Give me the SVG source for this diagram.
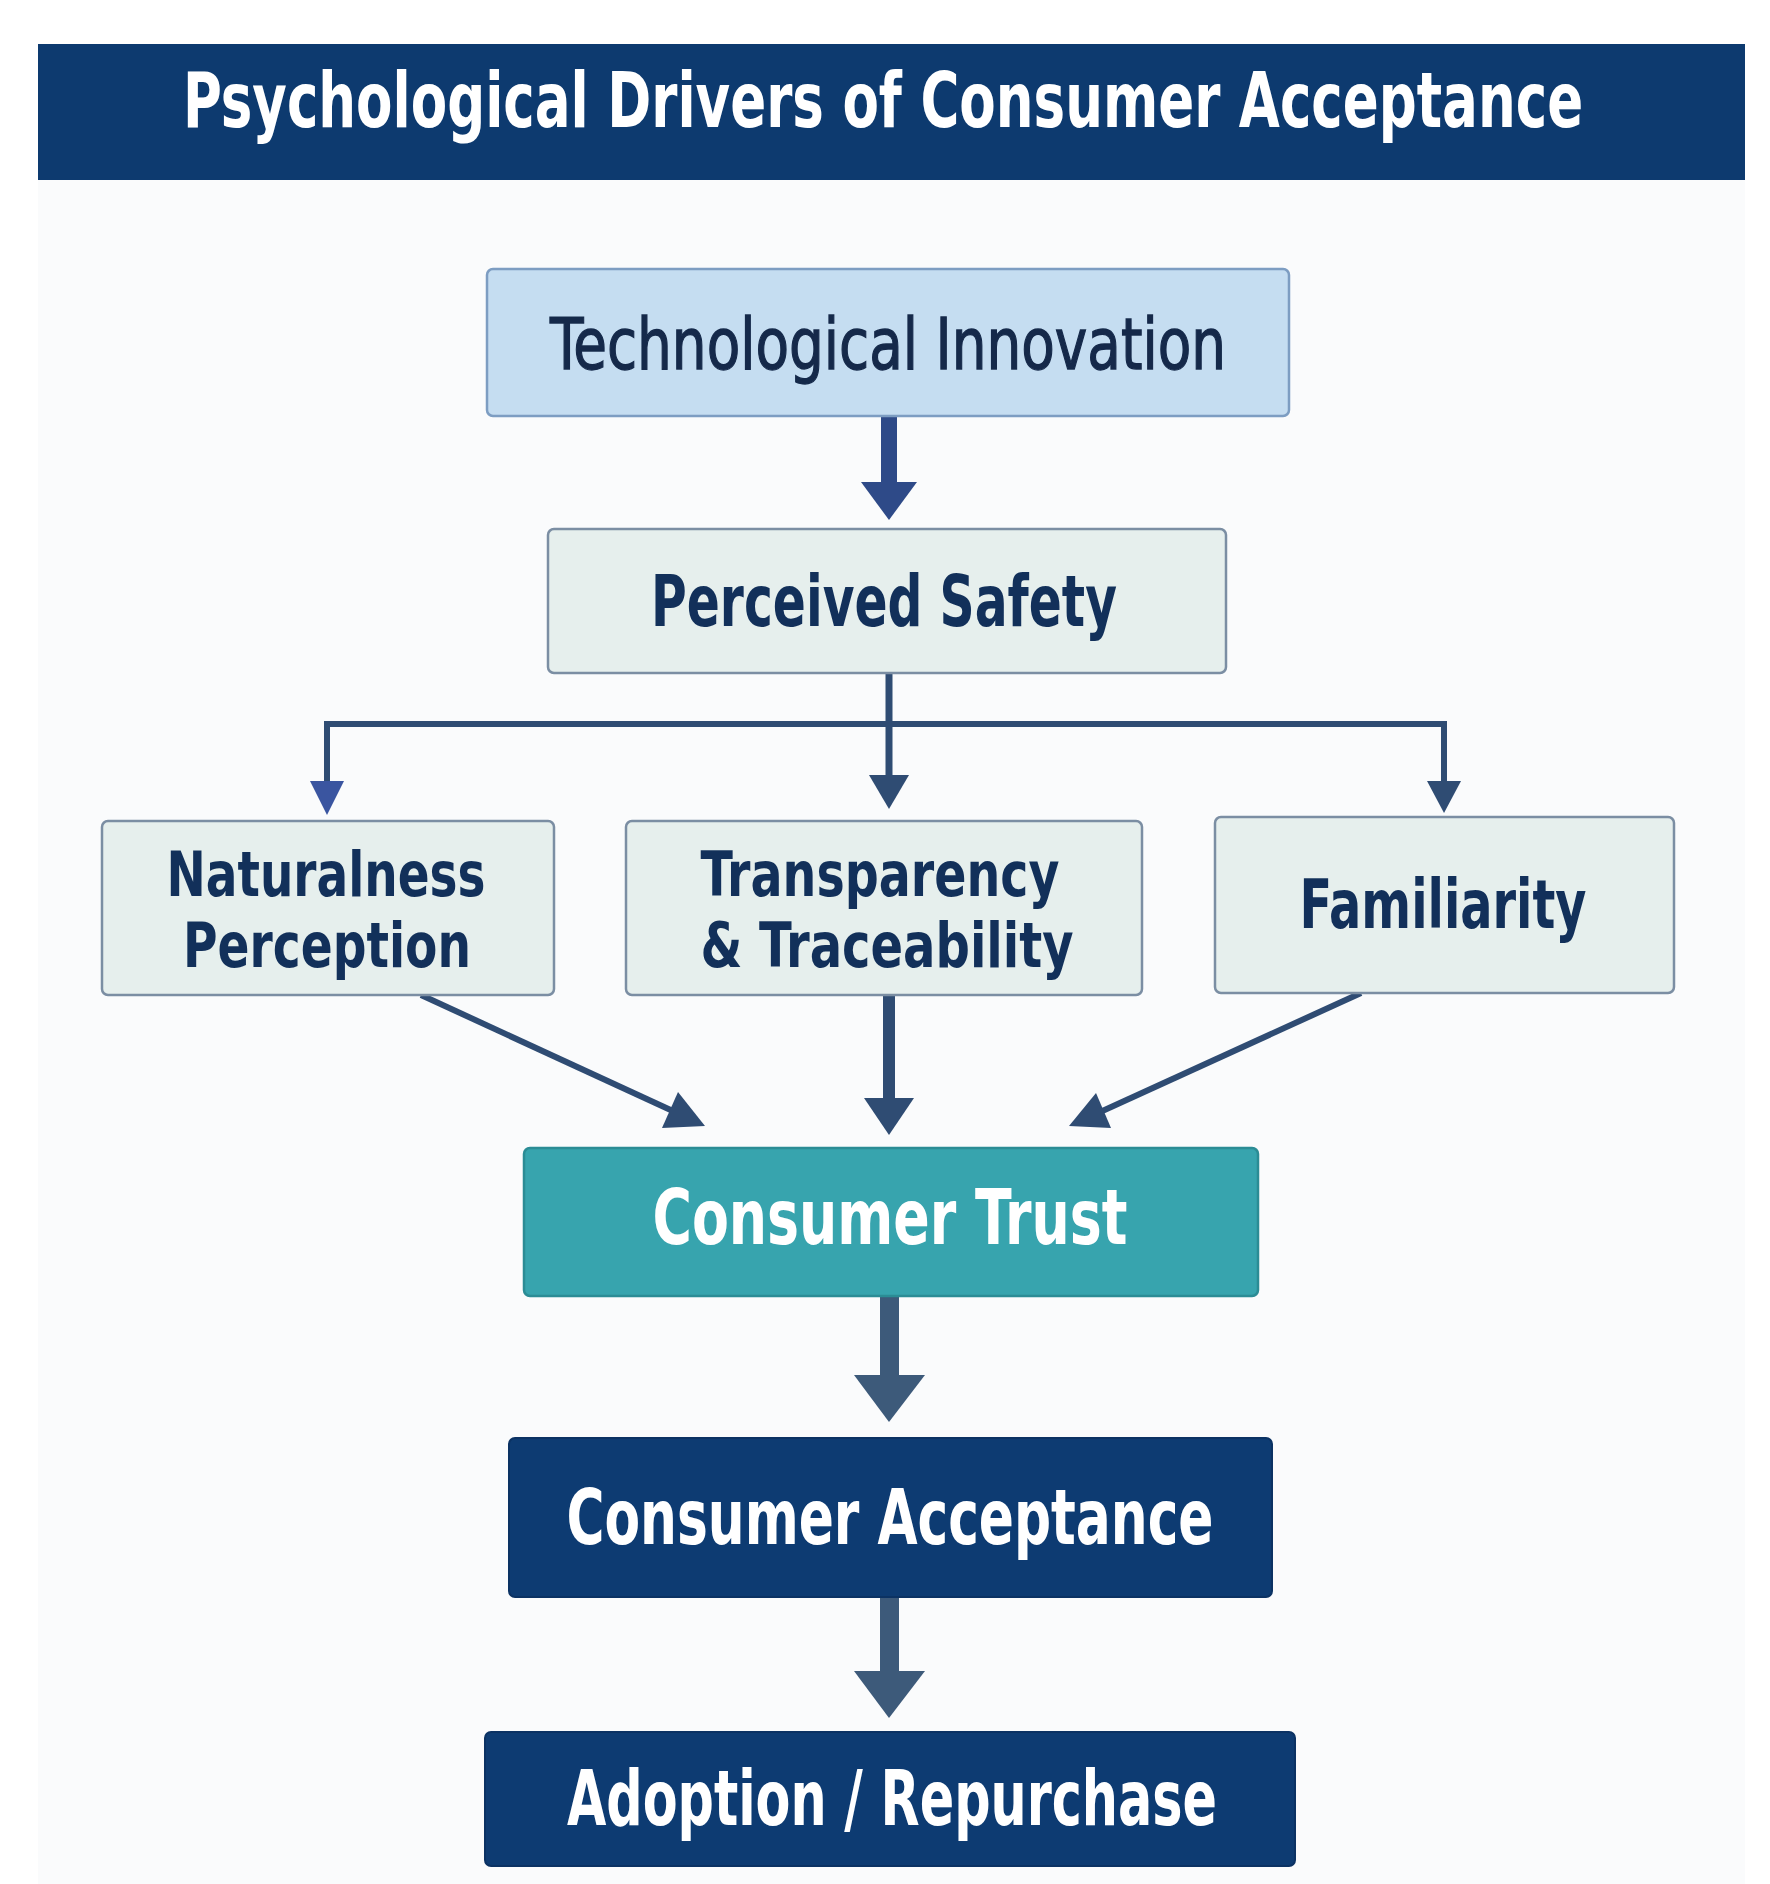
<svg xmlns="http://www.w3.org/2000/svg" width="1770" height="1884" viewBox="0 0 1770 1884">
  <style>
    .lbl { font-family: "Liberation Sans Narrow", "DejaVu Sans Condensed", "Liberation Sans", sans-serif; text-anchor: middle; }
    .dark { fill: #12305a; font-weight: bold; }
    .light { fill: #ffffff; font-weight: bold; }
    .pale { fill: #e6efed; stroke: #7b8ea3; stroke-width: 2.5; }
    .navy { fill: #0d3b72; stroke: #0b3263; stroke-width: 2; }
    .thin { fill: none; stroke: #2f4c73; stroke-width: 6; }
    .thinhead { fill: #2f4c73; }
  </style>
  <rect x="0" y="0" width="1770" height="1884" fill="#ffffff"/>
  <rect x="38" y="180" width="1707" height="1704" fill="#fafbfc"/>

  <g id="title">
    <rect x="38" y="44" width="1707" height="136" fill="#0d3a6f"/>
    <text class="lbl light" transform="translate(883,127) scale(0.75,1)" x="0" y="0" font-size="76" textLength="1867" lengthAdjust="spacingAndGlyphs">Psychological Drivers of Consumer Acceptance</text>
  </g>

  <g id="connectors">
    <!-- Tech -> Safety -->
    <rect x="881" y="415" width="16" height="68" fill="#2e4a88"/>
    <polygon points="861,482 917,482 889,520" fill="#2e4a88"/>
    <!-- Safety split -->
    <line class="thin" x1="889" y1="673" x2="889" y2="778" style="stroke-width:7"/>
    <polyline class="thin" points="327,784 327,724 1444,724 1444,784"/>
    <polygon points="310,781 344,781 327,815" fill="#3a55a0"/>
    <polygon class="thinhead" points="869,775 909,775 889,809"/>
    <polygon class="thinhead" points="1427,781 1461,781 1444,813"/>
    <!-- to Trust -->
    <line class="thin" x1="421" y1="995" x2="675" y2="1112"/>
    <polygon class="thinhead" points="705,1126 662,1128 678,1092"/>
    <rect x="883" y="995" width="12" height="104" fill="#2f4c73"/>
    <polygon class="thinhead" points="864,1098 914,1098 889,1135"/>
    <line class="thin" x1="1361" y1="993" x2="1098" y2="1113"/>
    <polygon class="thinhead" points="1069,1126 1111,1128 1096,1093"/>
    <!-- Trust -> Acceptance -->
    <rect x="880" y="1297" width="19" height="79" fill="#3d5a7a"/>
    <polygon points="854,1375 925,1375 889,1422" fill="#3d5a7a"/>
    <!-- Acceptance -> Adoption -->
    <rect x="880" y="1597" width="19" height="75" fill="#3d5a7a"/>
    <polygon points="854,1671 925,1671 889,1718" fill="#3d5a7a"/>
  </g>

  <g id="tech">
    <rect x="487" y="269" width="802" height="147" rx="6" fill="#c5ddf1" stroke="#7d9dc2" stroke-width="2.5"/>
    <text class="lbl" x="888" y="369" font-size="72" fill="#15294a" stroke="#15294a" stroke-width="1.3" font-weight="normal" textLength="676" lengthAdjust="spacingAndGlyphs">Technological Innovation</text>
  </g>

  <g id="safety">
    <rect class="pale" x="548" y="529" width="678" height="144" rx="6"/>
    <text class="lbl dark" x="884" y="626" font-size="72" textLength="466" lengthAdjust="spacingAndGlyphs">Perceived Safety</text>
  </g>

  <g id="naturalness">
    <rect class="pale" x="102" y="821" width="452" height="174" rx="6"/>
    <text class="lbl dark" x="326" y="896" font-size="62" textLength="319" lengthAdjust="spacingAndGlyphs">Naturalness</text>
    <text class="lbl dark" x="327" y="967" font-size="62" textLength="288" lengthAdjust="spacingAndGlyphs">Perception</text>
  </g>

  <g id="transparency">
    <rect class="pale" x="626" y="821" width="516" height="174" rx="6"/>
    <text class="lbl dark" x="880" y="896" font-size="62" textLength="359" lengthAdjust="spacingAndGlyphs">Transparency</text>
    <text class="lbl dark" x="887" y="967" font-size="62" textLength="373" lengthAdjust="spacingAndGlyphs">&amp; Traceability</text>
  </g>

  <g id="familiarity">
    <rect class="pale" x="1215" y="817" width="459" height="176" rx="6"/>
    <text class="lbl dark" x="1443" y="928" font-size="68" textLength="287" lengthAdjust="spacingAndGlyphs">Familiarity</text>
  </g>

  <g id="trust">
    <rect x="524" y="1148" width="734" height="148" rx="6" fill="#37a4ae" stroke="#2b8c95" stroke-width="2.5"/>
    <text class="lbl light" x="890" y="1244" font-size="76" textLength="475" lengthAdjust="spacingAndGlyphs">Consumer Trust</text>
  </g>

  <g id="acceptance">
    <rect class="navy" x="509" y="1438" width="763" height="159" rx="6"/>
    <text class="lbl light" x="890" y="1544" font-size="76" textLength="647" lengthAdjust="spacingAndGlyphs">Consumer Acceptance</text>
  </g>

  <g id="adoption">
    <rect class="navy" x="485" y="1732" width="810" height="134" rx="6"/>
    <text class="lbl light" x="892" y="1825" font-size="76" textLength="650" lengthAdjust="spacingAndGlyphs">Adoption / Repurchase</text>
  </g>
</svg>
